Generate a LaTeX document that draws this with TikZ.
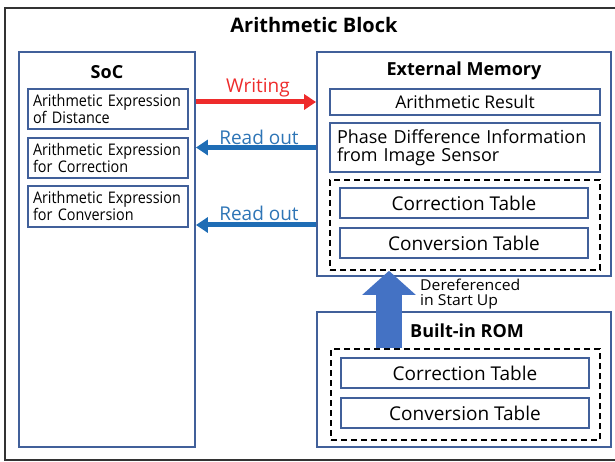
\documentclass[tikz,border=0pt]{standalone}
\usepackage{fontspec}
\setmainfont{Open Sans}
\newfontfamily\narrowfont[FakeStretch=0.9]{Open Sans}
\newfontfamily\labelfont[FakeStretch=1.05]{Open Sans}
\usetikzlibrary{arrows.meta}

\definecolor{frameblue}{HTML}{41609A}
\definecolor{writered}{HTML}{EE2B2B}
\definecolor{readblue}{HTML}{1F6DB5}
\definecolor{readtext}{HTML}{2E75B6}
\definecolor{fatblue}{HTML}{4472C4}
\definecolor{outergray}{HTML}{333333}

\tikzset{
  panel/.style={draw=frameblue, line width=1.8pt, fill=white, inner sep=0pt},
  itembox/.style={draw=frameblue, line width=1.8pt, fill=white, inner sep=0pt,
    font=\fontsize{19}{20}\selectfont},
  exprbox/.style={draw=frameblue, line width=1.8pt, fill=white, inner xsep=5pt,
    inner ysep=0pt, align=left, text width=150pt,
    font=\narrowfont\fontsize{16}{17}\selectfont},
  tablegroup/.style={draw=black, line width=1.6pt, dash pattern=on 6pt off 4pt, inner sep=0pt},
  paneltitle/.style={font=\bfseries\fontsize{18}{19}\selectfont},
  flowlabel/.style={font=\fontsize{19}{20}\selectfont},
  writearrow/.style={draw=writered, line width=5pt,
    -{Triangle[length=12pt,width=15pt]}},
  readarrow/.style={draw=readblue, line width=5pt,
    -{Triangle[length=12pt,width=15pt]}},
  fatarrow/.style={draw=fatblue, line width=26pt,
    -{Triangle[length=24pt,width=52pt]}}
}

\begin{document}
\begin{tikzpicture}[x=1pt,y=-1pt]
\useasboundingbox (0,0) rectangle (615,462);

% outer block frame (its right side runs past the page edge)
\draw[outergray, line width=2pt] (616,8) -- (5,8) -- (5,460) -- (616,460);
\node[font=\bfseries\fontsize{20}{22}\selectfont] (title) at (314,25) {Arithmetic Block};

% SoC panel
\node[panel, minimum width=176pt, minimum height=395pt] (soc) at (107,249.5) {};
\node[paneltitle] (soctitle) at (107,72) {SoC};
\node[exprbox, minimum height=40pt] (expdist) at (108,109) {Arithmetic Expression\\of Distance};
\node[exprbox, minimum height=40pt] (expcorr) at (108,158) {Arithmetic Expression\\for Correction};
\node[exprbox, minimum height=41pt] (expconv) at (108,206.5) {Arithmetic Expression\\for Conversion};

% External memory panel
\node[panel, minimum width=294pt, minimum height=224pt] (ext) at (464,164) {};
\node[paneltitle] (exttitle) at (464,71) {External Memory};
\node[itembox, minimum width=270pt, minimum height=26pt, font=\fontsize{17.5}{19}\selectfont]
  (result) at (465,102) {Arithmetic Result};
\node[itembox, minimum width=270pt, minimum height=49pt, align=left, text width=256pt,
  inner xsep=7pt, font=\fontsize{18}{18}\selectfont] (phase) at (465,147.5)
  {Phase Difference Information\\from Image Sensor};
\node[tablegroup, minimum width=270pt, minimum height=90pt] (extgroup) at (465,225) {};
\node[itembox, minimum width=248pt, minimum height=30pt] (extcorr) at (464,203) {Correction Table};
\node[itembox, minimum width=248pt, minimum height=30pt] (extconv) at (464,243) {Conversion Table};

% Built-in ROM panel
\node[panel, minimum width=294pt, minimum height=135pt] (rom) at (464,379.5) {};
\node[paneltitle] (romtitle) at (467,331) {Built-in ROM};
\node[tablegroup, minimum width=269pt, minimum height=91pt] (romgroup) at (465.5,394.5) {};
\node[itembox, minimum width=248pt, minimum height=30pt] (romcorr) at (465,373) {Correction Table};
\node[itembox, minimum width=248pt, minimum height=30pt] (romconv) at (465,413) {Conversion Table};

% data flow between SoC and external memory
\draw[writearrow] (soc.east |- result.center) -- (ext.west |- result.center);
\node[flowlabel, text=writered] (writelbl) at (258,88) {Writing};
\draw[readarrow] (ext.west |- phase.center) -- (soc.east |- phase.center);
\node[flowlabel, text=readtext] (readlbl1) at (259,137) {Read out};
\draw[readarrow] (ext.west |- extgroup.center) -- (soc.east |- extgroup.center);
\node[flowlabel, text=readtext] (readlbl2) at (259,213) {Read out};

% tables copied from ROM at start up
\coordinate (fatx) at (389,0);
\draw[fatarrow] (fatx |- romgroup.north) -- (fatx |- extgroup.south);
\node[anchor=west, align=left, inner sep=0pt,
  font=\labelfont\fontsize{15}{15}\selectfont] (startlbl) at (420,294) {Dereferenced\\in Start Up};
\end{tikzpicture}
\end{document}
